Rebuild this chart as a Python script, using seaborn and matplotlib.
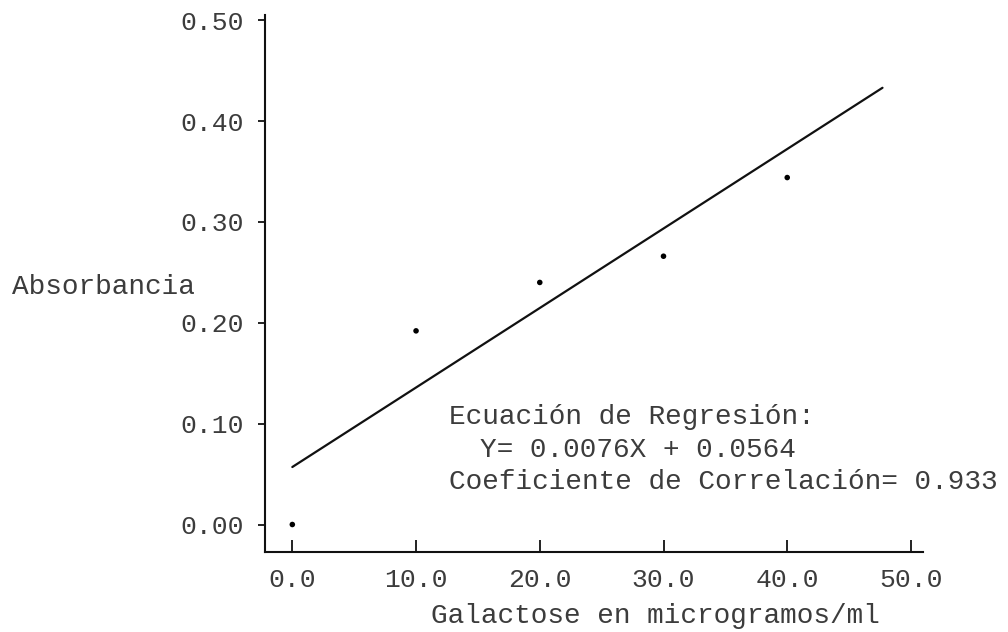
import matplotlib
matplotlib.use("Agg")
import matplotlib.pyplot as plt
import seaborn as sns
import pandas as pd

# ---- data ----
galactose = [0.0, 10.0, 20.0, 30.0, 40.0]
absorbancia = [0.000, 0.192, 0.240, 0.266, 0.344]
fit_x = [0.0, 47.7]          # regression line as drawn
fit_y = [0.057, 0.433]
x_ticks = [0.0, 10.0, 20.0, 30.0, 40.0, 50.0]
x_tick_labels = ["0.0", "10.0", "20.0", "30.0", "40.0", "50.0"]
y_ticks = [0.00, 0.10, 0.20, 0.30, 0.40, 0.50]
y_tick_labels = ["0.00", "0.10", "0.20", "0.30", "0.40", "0.50"]
x_label = "Galactose en microgramos/ml"
y_label = "Absorbancia"
annot_lines = ["Ecuación de Regresión:",
               "Y= 0.0076X + 0.0564",
               "Coeficiente de Correlación= 0.933"]

sns.set_theme(style="white")
plt.rcParams['font.family'] = ['Liberation Mono', 'DejaVu Sans Mono']
txt_color = "#3c3c3c"

fig = plt.figure(figsize=(10.08, 6.32), dpi=100)
ax = fig.add_axes([0.263, 0.127, 0.653, 0.849])

pts = pd.DataFrame({"x": galactose, "y": absorbancia})
sns.scatterplot(data=pts, x="x", y="y", ax=ax, color="black", s=16,
                edgecolor="none", zorder=3)
fit = pd.DataFrame({"x": fit_x, "y": fit_y})
sns.lineplot(data=fit, x="x", y="y", ax=ax, color="#111111", linewidth=1.6)

ax.set_xlim(-2.2, 51.0)
ax.set_ylim(-0.027, 0.505)
ax.set_xticks(x_ticks)
ax.set_xticklabels(x_tick_labels)
ax.set_yticks(y_ticks)
ax.set_yticklabels(y_tick_labels)

for s in ["top", "right"]:
    ax.spines[s].set_visible(False)
for s in ["left", "bottom"]:
    ax.spines[s].set_color("#111111")
    ax.spines[s].set_linewidth(1.5)

ax.tick_params(axis="x", direction="in", length=8.5, width=1.3, color="#111111",
               pad=12, labelsize=19, labelcolor=txt_color, bottom=True)
ax.tick_params(axis="y", direction="out", length=5, width=1.3, color="#111111",
               pad=10, labelsize=19, labelcolor=txt_color, left=True)

ax.set_xlabel(x_label, fontsize=20, color=txt_color)
ax.xaxis.set_label_coords(0.593, -0.095)
ax.set_ylabel(y_label, fontsize=20, color=txt_color, rotation=0,
              ha="center", va="center")
ax.yaxis.set_label_coords(-0.245, 0.4935)

annot_x = [12.7, 15.2, 12.7]
annot_y = [0.107, 0.074, 0.042]
for t, xx, yy in zip(annot_lines, annot_x, annot_y):
    ax.text(xx, yy, t, fontsize=20, color=txt_color, ha="left", va="center",
            clip_on=False)

ax.grid(False)
fig.savefig("out.png", dpi=100, facecolor="white")
